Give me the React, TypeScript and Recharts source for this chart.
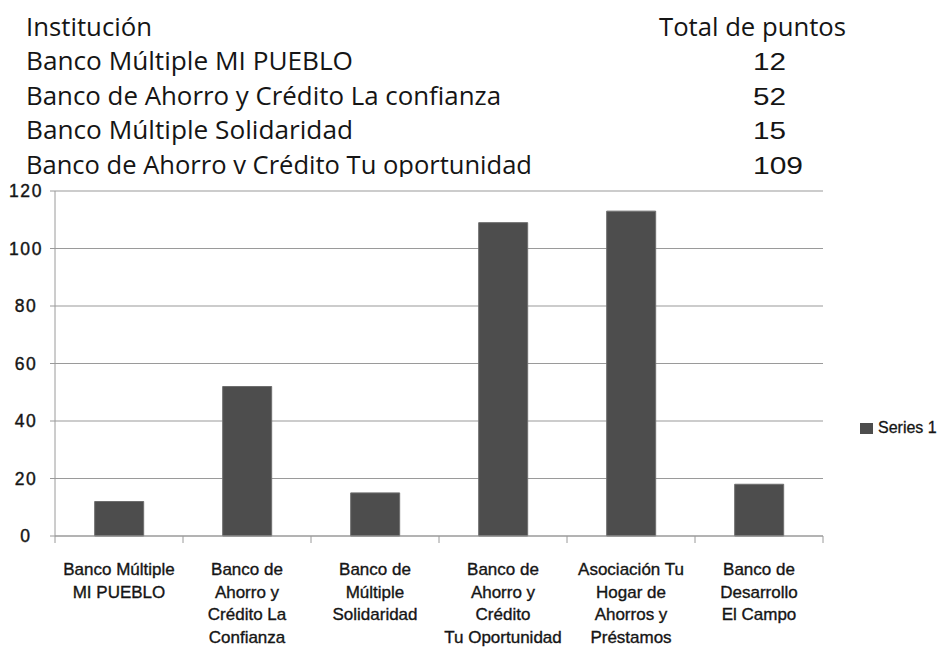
import React from 'react';
import { BarChart, Bar, XAxis, YAxis, CartesianGrid, Legend } from 'recharts';

// header table above the chart
const headerTitles = ['Institución', 'Total de puntos'];
const headerInstitutions = [
  'Banco Múltiple MI PUEBLO',
  'Banco de Ahorro y Crédito La confianza',
  'Banco Múltiple Solidaridad',
  'Banco de Ahorro v Crédito Tu oportunidad',
];
const headerPoints = ['12', '52', '15', '109'];

// chart data
const categoryLines = [
  ['Banco Múltiple', 'MI PUEBLO'],
  ['Banco de', 'Ahorro y', 'Crédito La', 'Confianza'],
  ['Banco de', 'Múltiple', 'Solidaridad'],
  ['Banco de', 'Ahorro y', 'Crédito', 'Tu Oportunidad'],
  ['Asociación Tu', 'Hogar de', 'Ahorros y', 'Préstamos'],
  ['Banco de', 'Desarrollo', 'El Campo'],
];
const series1 = [12, 52, 15, 109, 113, 18];
const yTicks = [0, 20, 40, 60, 80, 100, 120];
const seriesName = 'Series 1';

const data = categoryLines.map((lines, i) => ({ name: lines.join(' '), series1: series1[i] }));

// layout
const W = 941;
const H = 647;
const HEADER_H = 177;
const PLOT_LEFT = 55;
const PLOT_RIGHT = 823;
const BAND = (PLOT_RIGHT - PLOT_LEFT) / categoryLines.length;
const AXIS = '#9a9a9a';
const BAR = '#4d4d4d';
const INK = '#151515';
const SANS = "'Liberation Sans', Arial, sans-serif";

const instWidths = [327, 475, 327, 506];
const pointWidths = [33, 33, 33, 50];

function CategoryTick(props: any) {
  const { x, y, index } = props;
  const lines = categoryLines[index] || [];
  const last = index === categoryLines.length - 1;
  return (
    <g>
      <line x1={x - BAND / 2} y1={y} x2={x - BAND / 2} y2={y + 7} stroke={AXIS} />
      {last && <line x1={x + BAND / 2} y1={y} x2={x + BAND / 2} y2={y + 7} stroke={AXIS} />}
      <text x={x} y={y + 39} textAnchor="middle" fontFamily={SANS} fontSize={17} fill={INK} stroke={INK} strokeWidth={0.35}>
        {lines.map((l, i) => (
          <tspan key={i} x={x} dy={i === 0 ? 0 : 22.5}>{l}</tspan>
        ))}
      </text>
    </g>
  );
}

function ValueTick(props: any) {
  const { y, payload } = props;
  return (
    <text x={26} y={y} dy={6} textAnchor="middle" fontFamily={SANS} fontSize={17.5} letterSpacing={1.6} fill={INK} stroke={INK} strokeWidth={0.4}>
      {payload.value}
    </text>
  );
}

function LegendBox() {
  return (
    <div style={{ display: 'flex', alignItems: 'center', fontFamily: SANS, fontSize: 16, color: INK, WebkitTextStroke: '0.3px #151515', whiteSpace: 'nowrap' }}>
      <span style={{ display: 'inline-block', width: 13, height: 11, background: BAR, marginRight: 5 }} />
      <span>{seriesName}</span>
    </div>
  );
}

export default function App() {
  return (
    <div style={{ position: 'absolute', left: 0, top: 0, width: W, height: H, background: '#fff', overflow: 'hidden' }}>
      <svg width={W} height={HEADER_H} style={{ position: 'absolute', left: 0, top: 0 }}>
        <g fontFamily="'Open Sans', sans-serif" fontSize={25} fill={INK}>
          <text x={26} y={36} textLength={126} lengthAdjust="spacingAndGlyphs">{headerTitles[0]}</text>
          <text x={659} y={36} textLength={187} lengthAdjust="spacingAndGlyphs">{headerTitles[1]}</text>
          {headerInstitutions.map((t, i) => (
            <text key={t} x={26} y={36 + 34.4 * (i + 1)} textLength={instWidths[i]} lengthAdjust="spacingAndGlyphs">{t}</text>
          ))}
        </g>
        <g fontFamily={SANS} fontSize={23} fill={INK}>
          {headerPoints.map((t, i) => (
            <text key={i} x={753} y={36 + 34.4 * (i + 1)} textLength={pointWidths[i]} lengthAdjust="spacingAndGlyphs">{t}</text>
          ))}
        </g>
      </svg>
      <div style={{ position: 'absolute', left: 0, top: HEADER_H, background: '#fff' }}>
        <BarChart
          width={W}
          height={H - HEADER_H}
          data={data}
          margin={{ top: 14, right: W - PLOT_RIGHT, left: 0, bottom: 0 }}
          barCategoryGap="31%"
        >
          <CartesianGrid vertical={false} stroke={AXIS} strokeWidth={1.2} />
          <XAxis
            dataKey="name"
            height={111}
            axisLine={{ stroke: AXIS }}
            tickLine={false}
            tickSize={0}
            tickMargin={0}
            interval={0}
            tick={<CategoryTick />}
          />
          <YAxis
            width={PLOT_LEFT}
            domain={[0, 120]}
            ticks={yTicks}
            interval={0}
            axisLine={{ stroke: AXIS }}
            tickLine={{ stroke: AXIS }}
            tickSize={5}
            tick={<ValueTick />}
          />
          <Legend
            layout="vertical"
            align="center"
            verticalAlign="middle"
            wrapperStyle={{ left: 860, top: 419 - HEADER_H, width: 'auto' }}
            content={<LegendBox />}
          />
          <Bar dataKey="series1" name={seriesName} fill={BAR} stroke="#6e6e6e" strokeWidth={1} isAnimationActive={false} />
        </BarChart>
      </div>
    </div>
  );
}
